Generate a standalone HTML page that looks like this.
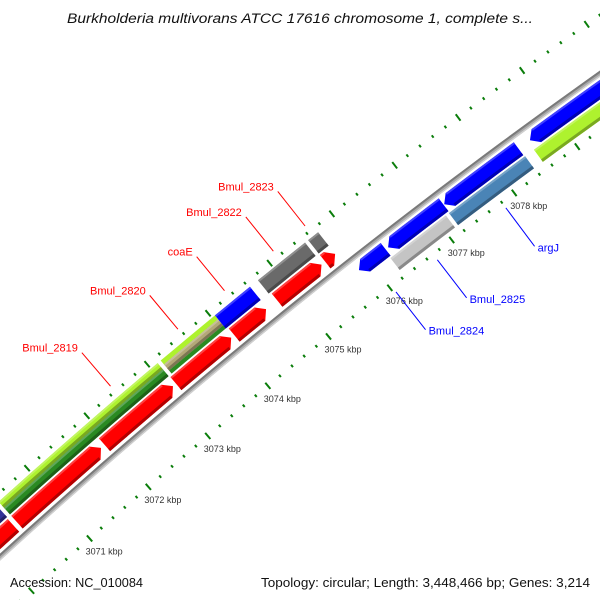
<!DOCTYPE html>
<html><head><meta charset="utf-8"><title>Genome map</title>
<style>html,body{margin:0;padding:0;background:#fff;overflow:hidden;width:600px;height:600px}svg{display:block;overflow:hidden}</style></head>
<body>
<svg id="map" width="600" height="600" viewBox="0 0 600 600" xmlns="http://www.w3.org/2000/svg">
<rect width="600" height="600" fill="#fff"/>
<g id="g-ticks"></g>
<g id="g-backbone"></g>
<g id="g-genes"></g>
<g id="g-labels"></g>
<text x="300" y="23" text-anchor="middle" font-family="Liberation Sans, sans-serif" font-style="italic" font-size="13.5" fill="#111" textLength="466" lengthAdjust="spacingAndGlyphs">Burkholderia multivorans ATCC 17616 chromosome 1, complete s...</text>
<text x="10" y="587" font-family="Liberation Sans, sans-serif" font-size="13" fill="#111" textLength="133" lengthAdjust="spacingAndGlyphs">Accession: NC_010084</text>
<text x="590" y="587" text-anchor="end" font-family="Liberation Sans, sans-serif" font-size="13" fill="#111" textLength="329" lengthAdjust="spacingAndGlyphs">Topology: circular; Length: 3,448,466 bp; Genes: 3,214</text>
</svg>
<script>
// ---- data ----
const tickStartKbp = 3068;
const tickEndKbp = 3081;
const tickLabels = [3069,3070,3071,3072,3073,3074,3075,3076,3077,3078];
// features: start / end (kbp), strand (+1/-1), track slot, colour
const featStart = [3068.0, 3069.0, 3070.45, 3071.93, 3073.12, 3074.08, 3074.78, 3075.56,
                   3068.0, 3070.45, 3070.45, 3073.16, 3073.16, 3073.16, 3074.05, 3074.75, 3075.56,
                   3075.83, 3076.30, 3077.20, 3078.56,
                   3076.24, 3077.18, 3078.53];
const featEnd   = [3070.39, 3070.39, 3071.87, 3073.07, 3074.03, 3074.60, 3075.50, 3075.72,
                   3070.40, 3073.11, 3073.11, 3074.05, 3074.05, 3074.05, 3074.62, 3075.51, 3075.72,
                   3076.26, 3077.19, 3078.38, 3081.0,
                   3077.13, 3078.39, 3081.0];
const featStrand = [1,1,1,1,1,1,1,1, 1,1,1,1,1,1,1,1,1, -1,-1,-1,-1, -1,-1,-1];
const featSlot = ['f0','f0','f0','f0','f0','f0','f0','f0',
                  'f1','f1top','f1bot','f1a','f1b','f1c','f1','f1','f1',
                  'r0','r0','r0','r0', 'r1','r1','r1'];
const featColor = ['#ff0000','#ff0000','#ff0000','#ff0000','#ff0000','#ff0000','#ff0000','#ff0000',
                   '#333399','#aef22e','#2a8a22','#aef22e','#b3a878','#2a8a22','#0000ff','#6a6a6a','#6a6a6a',
                   '#0000ff','#0000ff','#0000ff','#0000ff', '#c4c4c4','#4a84b6','#aef22e'];
const featArrow = [1,0,1,1,1,1,1,1, 0,0,0,0,0,0,0,0,0, 1,1,1,1, 0,0,0];
// labels
const labelText = ['Bmul_2819','Bmul_2820','coaE','Bmul_2822','Bmul_2823','Bmul_2824','Bmul_2825','argJ'];
const labelKbp  = [3072.47, 3073.58, 3074.34, 3075.13, 3075.64, 3076.03, 3076.70, 3077.80];
const labelStrand = [1,1,1,1,1,-1,-1,-1];

// ---- geometry ----
const CX = 4251, CY = 5219, R = 6309;
const K0 = 3071, A0 = -131.64, DEG_PER_KBP = 0.7157;
const slots = {f0:[6,23], f1:[25,42], f1top:[34,42], f1bot:[25,34], f1a:[37,42], f1b:[29,37], f1c:[25,29],
               r0:[-21,-5], r1:[-38,-23]};
function ang(k){ return (A0 + (k-K0)*DEG_PER_KBP)*Math.PI/180; }
function pt(k, off){ const a = ang(k), r = R+off; return [CX + r*Math.cos(a), CY + r*Math.sin(a)]; }
function arc(k0, k1, off){ const out=[]; const n = Math.max(2, Math.ceil(Math.abs(k1-k0)*4)); for(let i=0;i<=n;i++){ out.push(pt(k0+(k1-k0)*i/n, off)); } return out; }
function poly(pts){ return pts.map(p=>p[0].toFixed(2)+','+p[1].toFixed(2)).join(' '); }
const NS = 'http://www.w3.org/2000/svg';
function mk(tag, attrs, parent){ const e=document.createElementNS(NS,tag); for(const k in attrs) e.setAttribute(k, attrs[k]); parent.appendChild(e); return e; }
function shade(hex, f){ const n=parseInt(hex.slice(1),16); let r=n>>16,g=(n>>8)&255,b=n&255; const c=v=>Math.max(0,Math.min(255,Math.round(f<1? v*f : v+(255-v)*(f-1)))); return 'rgb('+c(r)+','+c(g)+','+c(b)+')'; }
function shapePts(k0,k1,r0,r1,strand,arrow){
  const mid=(r0+r1)/2; const h=Math.min(0.1, (k1-k0));
  if(!arrow) return arc(k0,k1,r1).concat(arc(k1,k0,r0));
  if(strand>0) return arc(k0,k1-h,r1).concat([pt(k1,mid)]).concat(arc(k1-h,k0,r0));
  return [pt(k0,mid)].concat(arc(k0+h,k1,r1)).concat(arc(k1,k0+h,r0));
}

// ---- backbone ----
const gb = document.getElementById('g-backbone');
let bb = mk('polygon', {points: poly(arc(3067,3082,2.6).concat(arc(3082,3067,-2.6))), fill:'#a8a8a8'}, gb);


let bb2 = mk('polygon', {points: poly(arc(3067,3082,2.6).concat(arc(3082,3067,0.6))), fill:'#7a7a7a'}, gb);


let bb3 = mk('polygon', {points: poly(arc(3067,3082,-1.2).concat(arc(3082,3067,-2.6))), fill:'#d0d0d0'}, gb);



// ---- ticks ----
const gt = document.getElementById('g-ticks');
for(let i=0; tickStartKbp + i*0.2 <= tickEndKbp + 1e-6; i++){
  const k = tickStartKbp + i*0.2;
  const major = Math.abs(k-Math.round(k))<1e-6;
  const half = major?4:1.5;
  [48,-46].forEach(function(c){
    const a=pt(k,c-half), b=pt(k,c+half);
    const ln = mk('line', {x1:a[0],y1:a[1],x2:b[0],y2:b[1],stroke:'#0a7d0a','stroke-width':2}, gt);
    
    
  });
}
tickLabels.forEach(function(k){
  const p = pt(k,-46);
  const t = mk('text', {x:(p[0]-4).toFixed(1), y:(p[1]+16).toFixed(1), 'font-family':'Liberation Sans, sans-serif','font-size':9,fill:'#333'}, gt);
  t.textContent = k + ' kbp';
  
  
});

// ---- genes ----
const gg = document.getElementById('g-genes');
for(let i=0;i<featStart.length;i++){
  const s = slots[featSlot[i]];
  const pts = shapePts(featStart[i], featEnd[i], s[0], s[1], featStrand[i], featArrow[i]);
  const p = mk('polygon', {points: poly(pts), fill: featColor[i]}, gg);
  
  
  const thick = s[1]-s[0];
  if(thick>=8){
    const h = featArrow[i] ? Math.min(0.1,featEnd[i]-featStart[i]) : 0;
    const a0 = featStrand[i]<0 ? featStart[i]+h : featStart[i];
    const a1 = featStrand[i]>0 ? featEnd[i]-h : featEnd[i];
    const dark = mk('polygon', {points: poly(arc(a0,a1,s[0]+3).concat(arc(a1,a0,s[0]))), fill: shade(featColor[i],0.7)}, gg);
    
    
    const lite = mk('polygon', {points: poly(arc(a0,a1,s[1]).concat(arc(a1,a0,s[1]-2))), fill: shade(featColor[i],1.25)}, gg);
    
    
  }
}

// ---- labels ----
const gl = document.getElementById('g-labels');
labelText.forEach(function(txt,i){
  const fwd = labelStrand[i]>0;
  const a = pt(labelKbp[i], fwd?55:-53), b = pt(labelKbp[i], fwd?99:-101);
  const col = fwd ? '#ff0000' : '#0000ff';
  const ln = mk('line', {x1:a[0],y1:a[1],x2:b[0],y2:b[1],stroke:col,'stroke-width':1}, gl);
  
  
  const t = mk('text', {x: (fwd? b[0]-4 : b[0]+3).toFixed(1), y: (fwd? b[1]-1 : b[1]+5).toFixed(1),
    'text-anchor': fwd?'end':'start', 'font-family':'Liberation Sans, sans-serif','font-size':11, fill: col}, gl);
  t.textContent = txt;
  
  
});
</script>
</body></html>
